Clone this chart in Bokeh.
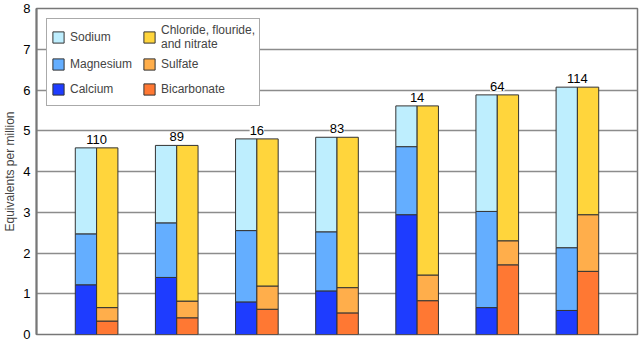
import numpy as np
from bokeh.plotting import figure
from bokeh.models import Range1d, ColumnDataSource, LabelSet, Legend, LegendItem
from bokeh.core.properties import value
from bokeh.embed import file_html
from bokeh.resources import INLINE

wells = ["110", "89", "16", "83", "14", "64", "114"]
calcium = [1.22, 1.40, 0.80, 1.07, 2.94, 0.66, 0.59]
magnesium = [1.25, 1.34, 1.75, 1.45, 1.67, 2.36, 1.54]
sodium = [2.11, 1.90, 2.25, 2.32, 1.00, 2.86, 3.94]
bicarbonate = [0.33, 0.41, 0.62, 0.53, 0.83, 1.71, 1.55]
sulfate = [0.33, 0.41, 0.57, 0.62, 0.63, 0.59, 1.39]
chloride = [3.92, 3.82, 3.61, 3.69, 4.15, 3.58, 3.13]
y_ticks = [0, 1, 2, 3, 4, 5, 6, 7, 8]

FONT = "Liberation Sans"
C_NA, C_MG, C_CA = "#BEEEFE", "#64AEFF", "#1E3CFF"
C_CL, C_SO4, C_HCO3 = "#FFD53C", "#FFAE4B", "#FF7833"

idx = np.arange(len(wells))
bw = 0.266
src = ColumnDataSource(dict(
    xc=idx - bw / 2, xa=idx + bw / 2,
    calcium=calcium, magnesium=magnesium, sodium=sodium,
    bicarbonate=bicarbonate, sulfate=sulfate, chloride=chloride,
))

p = figure(width=644, height=344,
           x_range=Range1d(-0.75, 6.75), y_range=Range1d(0, 8),
           x_axis_location=None,
           output_backend="svg", toolbar_location=None,
           min_border_left=36, min_border_right=7,
           min_border_top=8, min_border_bottom=10)

rc = p.vbar_stack(["calcium", "magnesium", "sodium"], x="xc", width=bw,
                  color=[C_CA, C_MG, C_NA], line_color="#333333",
                  line_width=1, source=src)
ra = p.vbar_stack(["bicarbonate", "sulfate", "chloride"], x="xa", width=bw,
                  color=[C_HCO3, C_SO4, C_CL], line_color="#333333",
                  line_width=1, source=src)

totals = np.array(calcium) + np.array(magnesium) + np.array(sodium)
lsrc = ColumnDataSource(dict(x=idx, y=totals, text=wells))
labels = LabelSet(x="x", y="y", text="text", source=lsrc,
                  text_align="center", text_baseline="alphabetic", y_offset=4,
                  text_font=value(FONT), text_font_size=value("13px"),
                  text_color="black",
                  background_fill_color="white")
p.add_layout(labels)

legend = Legend(items=[
    LegendItem(label="Sodium", renderers=[rc[2]]),
    LegendItem(label="Magnesium", renderers=[rc[1]]),
    LegendItem(label="Calcium", renderers=[rc[0]]),
    LegendItem(label="Chloride, flouride,\nand nitrate", renderers=[ra[2]]),
    LegendItem(label="Sulfate", renderers=[ra[1]]),
    LegendItem(label="Bicarbonate", renderers=[ra[0]]),
], location="top_left", ncols=2, margin=10, padding=4, spacing=1,
    glyph_width=14, glyph_height=14, label_standoff=5,
    label_height=24, label_width=71,
    label_text_font=FONT, label_text_font_size="12px",
    label_text_line_height=0.75,
    border_line_color="#555555", border_line_width=1.5,
    background_fill_color="white", background_fill_alpha=1.0)
p.add_layout(legend)

p.yaxis.ticker = y_ticks
p.yaxis.axis_label = "Equivalents per million"
p.yaxis.axis_label_text_font = FONT
p.yaxis.axis_label_text_font_size = "12px"
p.yaxis.axis_label_text_font_style = "normal"
p.yaxis.axis_label_standoff = 3
p.yaxis.major_label_text_font = FONT
p.yaxis.major_label_text_font_size = "13px"
p.yaxis.major_label_text_color = "black"
p.yaxis.major_label_standoff = 6
p.yaxis.major_tick_in = 0
p.yaxis.major_tick_out = 0
p.yaxis.minor_tick_line_color = None
p.yaxis.axis_line_color = "#777777"
p.yaxis.axis_line_width = 2

p.xgrid.grid_line_color = None
p.ygrid.grid_line_color = "#8c8c8c"
p.ygrid.grid_line_width = 1.5
p.outline_line_color = "#777777"
p.outline_line_width = 1.5
p.background_fill_color = "white"
p.border_fill_color = "white"

open("out.html", "w").write(file_html(p, INLINE))
